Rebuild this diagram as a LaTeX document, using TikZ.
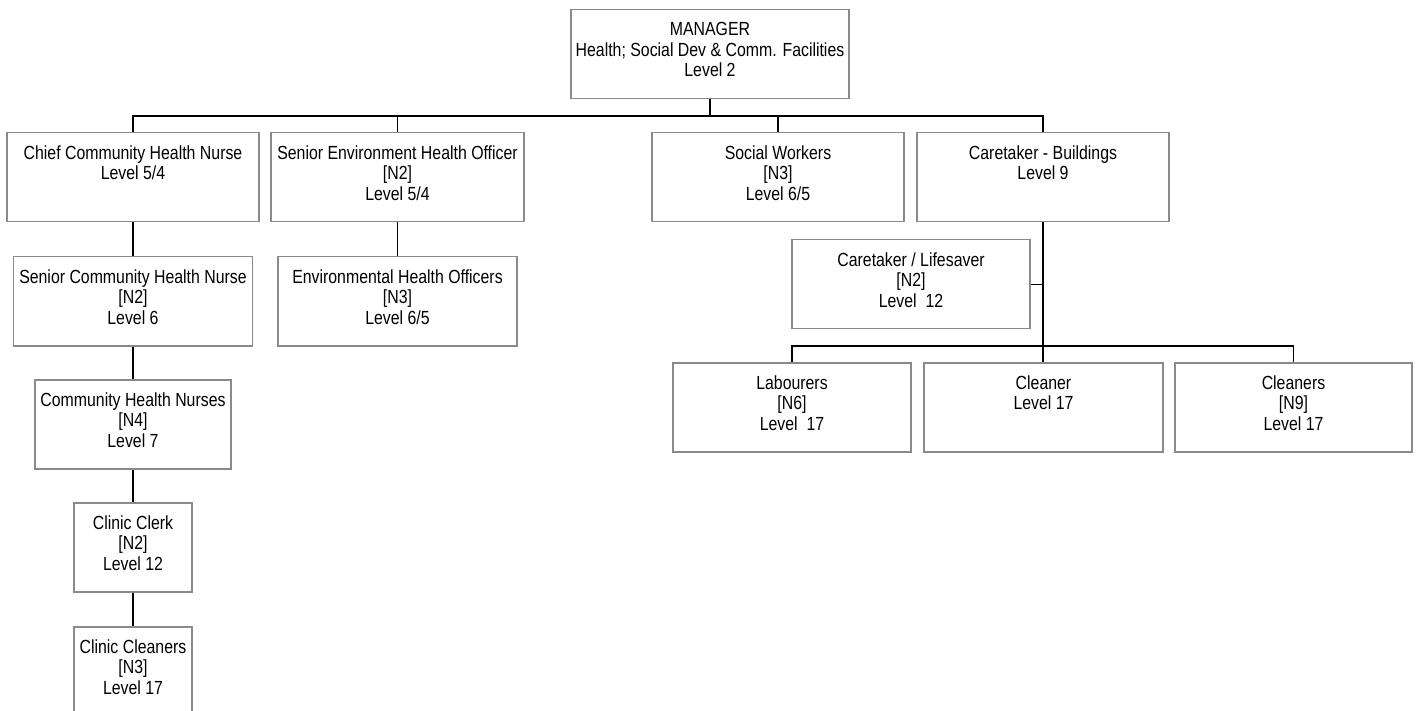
\documentclass[tikz,border=0pt]{standalone}
\usepackage{fontspec}
\setmainfont{Liberation Sans}[FakeStretch=0.835]
\definecolor{boxgray}{HTML}{8A8A8A}
\begin{document}
\begin{tikzpicture}[x=1pt,y=-1pt,
  caption/.style={anchor=north, align=center, inner sep=0pt, yshift=-13.2pt,
    font=\fontsize{19}{20.5}\selectfont, execute at begin node=\strut},
  post/.style={draw=boxgray, line width=1.5pt, minimum height=89pt,
    inner sep=0pt, anchor=north, label={[caption]north:{#1}}},
  link/.style={draw=black, line width=1.3pt}]
\useasboundingbox (0,0) rectangle (1419,711);
\clip (0,0) rectangle (1419,711);

% top level
\node[post={MANAGER\\Health; Social Dev \& Comm. Facilities\\Level 2}, minimum width=278pt] (mgr) at (710,9) {};

% second level
\node[post={Chief Community Health Nurse\\Level 5/4}, minimum width=252pt] (chief) at (133,132) {};
\node[post={Senior Environment Health Officer\\{[N2]}\\Level 5/4}, minimum width=253pt] (seho) at (397.5,132) {};
\node[post={Social Workers\\{[N3]}\\Level 6/5}, minimum width=252pt] (sw) at (778,132) {};
\node[post={Caretaker - Buildings\\Level 9}, minimum width=252pt] (ctb) at (1043,132) {};

% health nursing column
\node[post={Senior Community Health Nurse\\{[N2]}\\Level 6}, minimum width=239pt] (scn) at (133,256) {};
\node[post={Community Health Nurses\\{[N4]}\\Level 7}, minimum width=196pt] (chn) at (133,379) {};
\node[post={Clinic Clerk\\{[N2]}\\Level 12}, minimum width=118pt] (clerk) at (133,502) {};
\node[post={Clinic Cleaners\\{[N3]}\\Level 17}, minimum width=118pt] (ccl) at (133,626) {};

% environmental health
\node[post={Environmental Health Officers\\{[N3]}\\Level 6/5}, minimum width=239pt] (eho) at (397.5,256) {};

% buildings
\node[post={Caretaker / Lifesaver\\{[N2]}\\Level~~12}, minimum width=238pt] (life) at (911,239) {};
\node[post={Labourers\\{[N6]}\\Level~~17}, minimum width=238pt] (lab) at (792,362) {};
\node[post={Cleaner\\Level 17}, minimum width=239pt] (cln) at (1043.5,362) {};
\node[post={Cleaners\\{[N9]}\\Level 17}, minimum width=237pt] (clns) at (1293.5,362) {};

% connectors
\coordinate (bus1) at (0,116);
\coordinate (bus2) at (0,346);
\draw[link] (chief.north) -- (chief.north |- bus1) -- (ctb.north |- bus1) -- (ctb.north);
\draw[link] (mgr.south) -- (mgr.south |- bus1);
\draw[link] (seho.north) -- (seho.north |- bus1);
\draw[link] (sw.north) -- (sw.north |- bus1);

\draw[link] (chief.south) -- (scn.north);
\draw[link] (scn.south) -- (chn.north);
\draw[link] (chn.south) -- (clerk.north);
\draw[link] (clerk.south) -- (ccl.north);
\draw[link] (seho.south) -- (eho.north);

\draw[link] (ctb.south) -- (ctb.south |- cln.north);
\draw[link] (life.east) -- (life.east -| ctb.south);
\draw[link] (lab.north) -- (lab.north |- bus2) -- (clns.north |- bus2) -- (clns.north);
\end{tikzpicture}
\end{document}
